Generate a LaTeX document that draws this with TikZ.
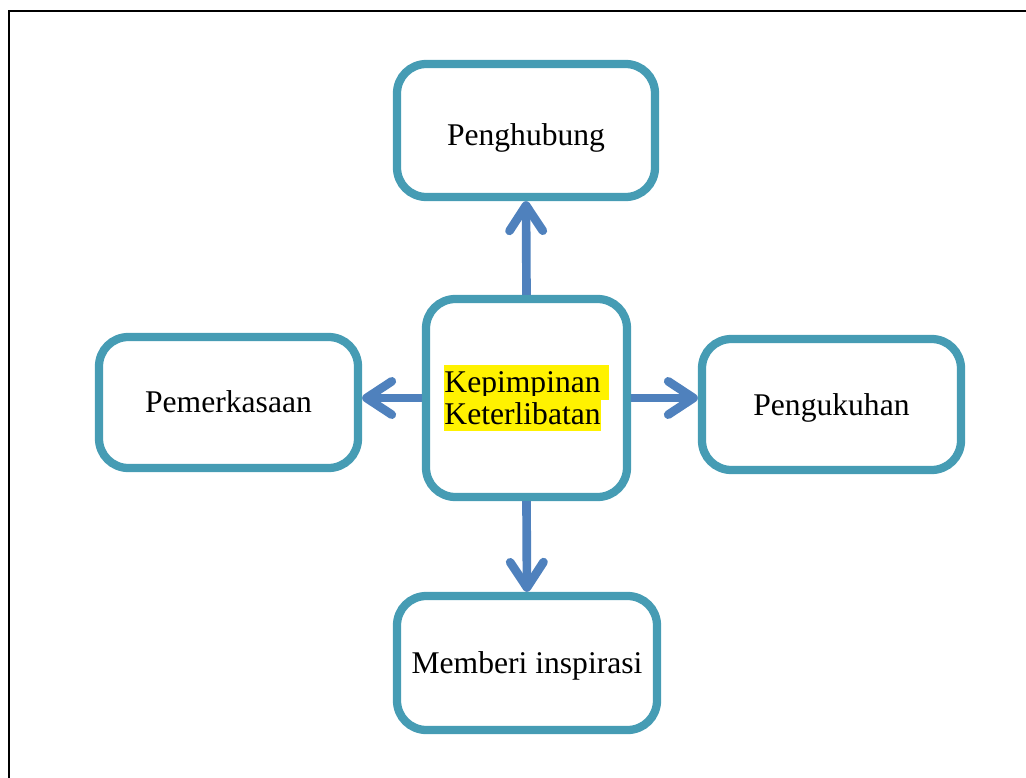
\documentclass[tikz,border=0pt]{standalone}
\usepackage{fontspec}
\setmainfont{Liberation Serif}
\usetikzlibrary{arrows.meta,shadows}
\definecolor{boxteal}{RGB}{70,156,180}
\definecolor{arrowblue}{RGB}{79,129,189}
\newcommand{\hlbox}[1]{{\setlength{\fboxsep}{0pt}\colorbox{yellow}{\rule[-0.216em]{0pt}{1.107em}#1}}}
\tikzset{
  cbox/.style={draw=boxteal, line width=6.2pt, rounded corners=22pt, fill=white,
    drop shadow={opacity=0.18, shadow xshift=1.5pt, shadow yshift=-2pt},
    font=\fontsize{23.7}{23.7}\selectfont, inner sep=0pt, text depth=5pt, text height=20pt},
  conn/.style={draw=arrowblue, line width=6.5pt,
    -{Straight Barb[length=19pt, width=25pt, round]}}
}
\begin{document}
\begin{tikzpicture}[x=0.75pt,y=-0.75pt]
\useasboundingbox (0,0) rectangle (1026,778);
\clip (0,0) rectangle (1026,778);
\draw[line width=1.9pt] (9,11) rectangle (1040,800);
\node[cbox, minimum width=258*0.75pt, minimum height=133*0.75pt, text height=26.75pt] (top) at (526,130.5) {Penghubung};
\node[cbox, minimum width=201*0.75pt, minimum height=198*0.75pt, text height=44.8pt, text depth=5.1pt] (mid) at (526.5,398)
  {\vbox{\baselineskip=23.7pt\lineskiplimit=-100pt\lineskip=0pt
   \hbox{\hlbox{Kepimpinan }}\hbox{\hlbox{Keterlibatan}}}};
\node[cbox, minimum width=259*0.75pt, minimum height=131*0.75pt] (left) at (228.5,402.5) {Pemerkasaan};
\node[cbox, minimum width=259*0.75pt, minimum height=131*0.75pt, text height=21pt] (right) at (831.5,404.5) {Pengukuhan};
\node[cbox, minimum width=260*0.75pt, minimum height=134*0.75pt] (bottom) at (527,663) {Memberi inspirasi};
\draw[conn] (mid.north) -- (top.south);
\draw[conn] (mid.west) -- (left.east |- mid.west);
\draw[conn] (mid.east) -- (right.west |- mid.east);
\draw[conn] (mid.south) -- (bottom.north);
\end{tikzpicture}
\end{document}
